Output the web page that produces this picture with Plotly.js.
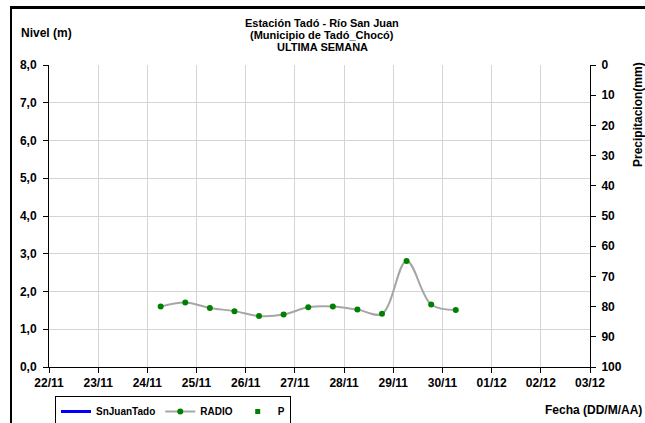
<!DOCTYPE html>
<html><head><meta charset="utf-8">
<script src="https://cdn.plot.ly/plotly-3.0.1.min.js"></script>
<style>html,body{margin:0;padding:0;background:#fff;overflow:hidden}
#wrap{position:relative;width:645px;height:423px}
#c{position:absolute;left:0;top:0;width:645px;height:423px}
#frame{position:absolute;left:10px;top:6px;width:700px;height:500px;border-left:2.5px solid #000;border-top:3px solid #000;pointer-events:none;z-index:5}
.xtick text,.ytick text,.y2tick text{font-weight:700 !important}</style>
</head><body><div id="wrap"><div id="c"></div><div id="frame"></div></div>
<script>
const times = ["2023-11-24 06:30","2023-11-24 18:30","2023-11-25 06:30","2023-11-25 18:30","2023-11-26 06:30","2023-11-26 18:30","2023-11-27 06:30","2023-11-27 18:30","2023-11-28 06:30","2023-11-28 18:30","2023-11-29 06:30","2023-11-29 18:30","2023-11-30 06:30"];
const radio = [1.60,1.71,1.565,1.48,1.35,1.39,1.58,1.60,1.52,1.41,2.81,1.655,1.51];
const snJuanTado = [];
const precip = [];
const precipTimes = [];
const xRange = ["2023-11-22","2023-12-03"];

const FAM = "Liberation Sans, Arial, sans-serif";
const tickF = {family:FAM, size:12, color:"#000", weight:700};
const txtF = {family:FAM, size:11, color:"#000", weight:700};
const lblF = {family:FAM, size:12, color:"#000", weight:700};
const L=49, R=55, T=65, B=56, W=645, H=423;
const pw=W-L-R, ph=H-T-B;
const px = v => (v-L)/pw;
const py = v => (H-B-v)/ph;

const traces = [
  {name:"SnJuanTado", x:snJuanTado.length?times:[null], y:snJuanTado.length?snJuanTado:[null], type:"scatter", mode:"lines", line:{color:"#0000ff", width:3}},
  {name:"RADIO", x:times, y:radio, type:"scatter", mode:"lines+markers",
   line:{color:"#a6a6a6", width:2, shape:"spline", smoothing:1},
   marker:{color:"#008000", size:6}},
  {name:"P", x:precipTimes.length?precipTimes:[null], y:precip.length?precip:[null], yaxis:"y2", type:"scatter", mode:"markers",
   marker:{color:"#008000", size:5, symbol:"square"}}
];

const axCommon = {showline:true, linecolor:"#000", linewidth:1, ticks:"outside", ticklen:5, tickcolor:"#000",
  tickfont:tickF, zeroline:false, automargin:false};

const layout = {
  width:W, height:H, margin:{l:L, r:R, t:T, b:B, autoexpand:false},
  paper_bgcolor:"#fff", plot_bgcolor:"#fff",
  separators:",.",
  showlegend:true,
  font:txtF,
  xaxis:Object.assign({}, axCommon, {type:"date", range:xRange, dtick:86400000, tickformat:"%d/%m",
    showgrid:true, gridcolor:"#d4d4d4", gridwidth:1}),
  yaxis:Object.assign({}, axCommon, {range:[0,8], dtick:1, tickformat:".1f", showgrid:true, gridcolor:"#d4d4d4", gridwidth:1,
    ticklabelstandoff:4}),
  yaxis2:Object.assign({}, axCommon, {overlaying:"y", side:"right", range:[100,0], dtick:10, showgrid:false, ticklabelstandoff:3}),
  legend:{orientation:"h", x:px(55), y:py(396), xanchor:"left", yanchor:"top",
    bordercolor:"#000", borderwidth:1, bgcolor:"#fff", font:{family:FAM, size:10, weight:700, color:"#000"},
    itemwidth:30, tracegroupgap:0},
  annotations:[
    {xref:"paper", yref:"paper", x:px(322), y:py(23), text:"<b>Estación Tadó - Río San Juan</b>", showarrow:false, font:txtF, xanchor:"center", yanchor:"middle"},
    {xref:"paper", yref:"paper", x:px(322), y:py(35), text:"<b>(Municipio de Tadó_Chocó)</b>", showarrow:false, font:txtF, xanchor:"center", yanchor:"middle"},
    {xref:"paper", yref:"paper", x:px(322), y:py(47), text:"<b>ULTIMA SEMANA</b>", showarrow:false, font:txtF, xanchor:"center", yanchor:"middle"},
    {xref:"paper", yref:"paper", x:px(19), y:py(33), text:"<b>Nivel (m)</b>", showarrow:false, font:lblF, xanchor:"left", yanchor:"middle"},
    {xref:"paper", yref:"paper", x:px(644), y:py(410), text:"<b>Fecha (DD/M/AA)</b>", showarrow:false, font:lblF, xanchor:"right", yanchor:"middle"},
    {xref:"paper", yref:"paper", x:px(638), y:py(115), text:"<b>Precipitacion(mm)</b>", textangle:-90, showarrow:false, font:lblF, xanchor:"center", yanchor:"middle"}
  ]
};
Plotly.newPlot("c", traces, layout, {staticPlot:true});
</script></body></html>
